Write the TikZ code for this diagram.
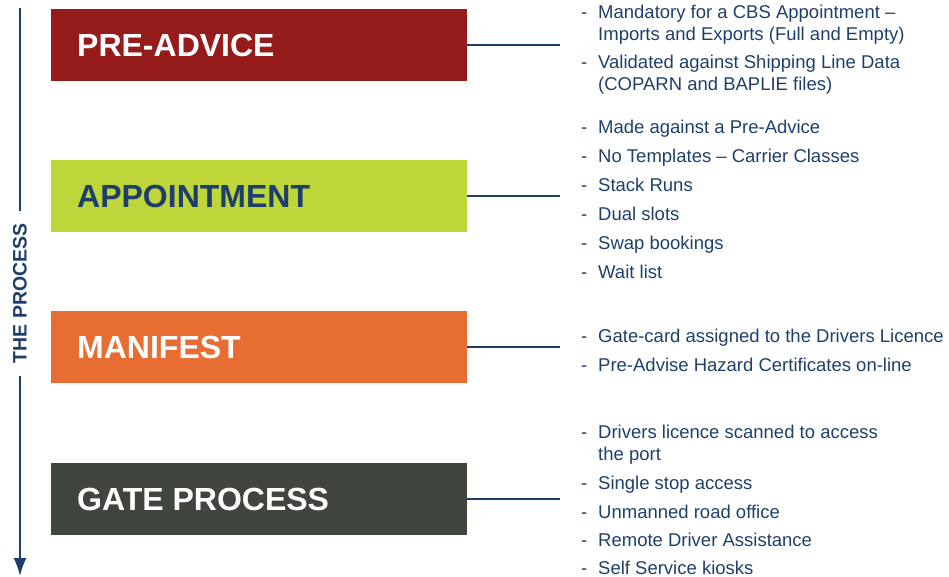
\documentclass[tikz,border=0pt]{standalone}
\usepackage{fontspec}
\setmainfont{Liberation Sans}
\usetikzlibrary{arrows.meta, positioning}
\definecolor{Red}{HTML}{961C1B}
\definecolor{Lime}{HTML}{BED63A}
\definecolor{Orange}{HTML}{E86D33}
\definecolor{DGrey}{HTML}{40453E}
\definecolor{DBlue}{HTML}{1F3F6B}
\NewDocumentCommand{\DrawStage}{m m m m m}{
    % box, its title and the link out to the list
    \node[stage, fill=#3] (#1) at (51,#2) {};
    \node[title, text=#4] at ([xshift=26pt]#1.west) {#5};
    \coordinate (#1-end) at (560,#2);
    \draw[link] (#1.east) -- (#1-end);
}

\begin{document}
\begin{tikzpicture}[x=1pt, y=-1pt,
    stage/.style={anchor=west, minimum width=416pt, minimum height=72pt, inner sep=0pt},
    title/.style={anchor=west, inner sep=0pt, font=\fontsize{32}{36}\selectfont\bfseries},
    link/.style={DBlue, line width=2pt},
    item/.style={anchor=base west, inner sep=0pt, align=left, text=DBlue, font=\fontsize{18.5}{21.5}\selectfont},
    bullet/.style={anchor=base west, inner sep=0pt, text=DBlue, font=\fontsize{18.5}{21.5}\selectfont}]

    \useasboundingbox (0,0) rectangle (949,576);

    % the process axis
    \node[rotate=90, inner sep=12pt, text=DBlue, font=\fontsize{19.5}{22}\selectfont\bfseries] (proc) at (20,293.5) {THE PROCESS};
    \coordinate (axis-top) at (20,8);
    \coordinate (axis-bot) at (20,576);
    \draw[link] (axis-top) -- (proc.east);
    \draw[link, -{Latex[length=18pt, width=13pt]}] (proc.west) -- (axis-bot);

    \DrawStage{pre}{45}{Red}{white}{PRE-ADVICE}
    \DrawStage{appt}{196}{Lime}{DBlue}{APPOINTMENT}
    \DrawStage{mani}{347}{Orange}{white}{MANIFEST}
    \DrawStage{gate}{499}{DGrey}{white}{GATE PROCESS}

    % bullet lists (y of first baseline / lines / text)
    \foreach \y/\n/\t [count=\i] in {
        18.5/2/{Mandatory for a CBS Appointment --\\Imports and Exports (Full and Empty)},
        68.5/2/{Validated against Shipping Line Data\\(COPARN and BAPLIE files)},
        133/1/{Made against a Pre-Advice},
        162/1/{No Templates -- Carrier Classes},
        191/1/{Stack Runs},
        220/1/{Dual slots},
        249/1/{Swap bookings},
        278/1/{Wait list},
        342/1/{Gate-card assigned to the Drivers Licence},
        371/1/{Pre-Advise Hazard Certificates on-line},
        438.5/2/{Drivers licence scanned to access\\the port},
        489/1/{Single stop access},
        518/1/{Unmanned road office},
        546.5/1/{Remote Driver Assistance},
        574/1/{Self Service kiosks}} {
        \node[bullet] (dash-\i) at (581,\y) {-};
        \node[item] (item-\i) at (598,{\y+21.5*(\n-1)}) {\t};
    }
\end{tikzpicture}
\end{document}
